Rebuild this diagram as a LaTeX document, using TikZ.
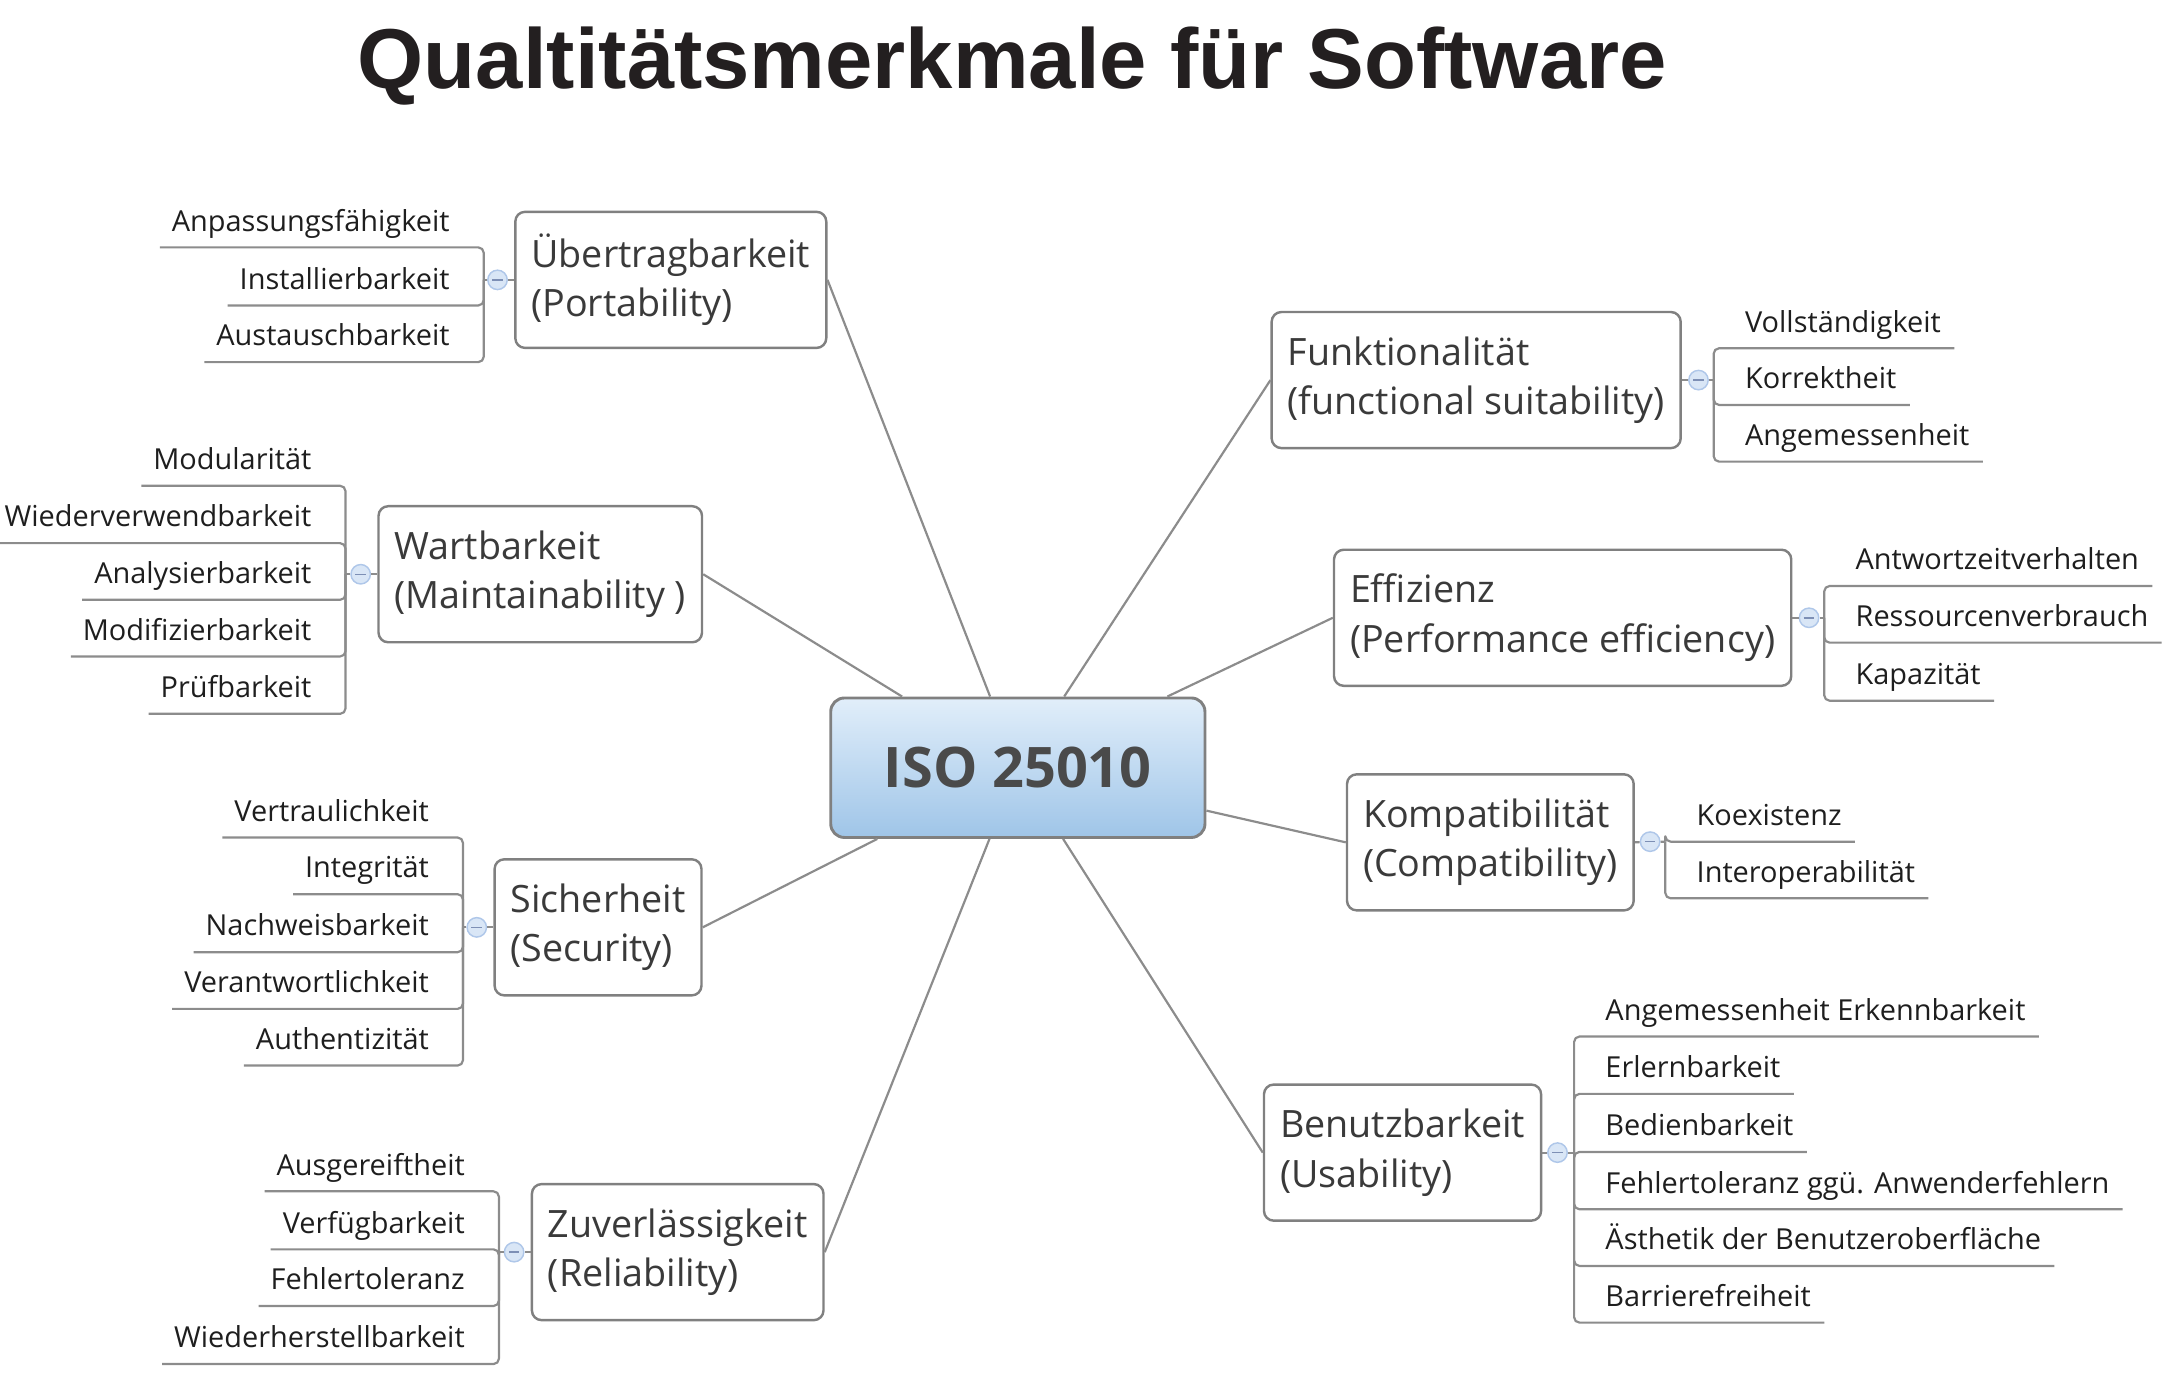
\documentclass[tikz,border=0pt]{standalone}
\usepackage{fontspec}
\setmainfont{Open Sans}
\newfontfamily\headfont{Liberation Sans}
\usetikzlibrary{calc}

\definecolor{lineGray}{HTML}{8C8C8C}
\definecolor{boxGray}{HTML}{808080}
\definecolor{knobFill}{HTML}{D9E6F6}
\definecolor{knobLine}{HTML}{AFC7E9}
\definecolor{knobDash}{HTML}{7D8FB5}
\definecolor{hubTop}{HTML}{E1EEFA}
\definecolor{hubBot}{HTML}{9FC5E8}
\definecolor{hubInk}{HTML}{4A4A4A}
\definecolor{topicInk}{HTML}{3A3A3A}
\definecolor{leafInk}{HTML}{1E1E1E}
\definecolor{titleInk}{HTML}{231F20}

\tikzset{
  twig/.style={draw=lineGray, line width=0.45pt},
  twigcorner/.style={twig, rounded corners=1.1pt},
  hub/.style={rectangle, rounded corners=2.8pt, draw=boxGray, line width=0.6pt,
    top color=hubTop, bottom color=hubBot, minimum width=77pt, minimum height=28.7pt,
    font=\bfseries\fontsize{11.5}{13}\selectfont, text=hubInk},
  topic/.style={rectangle, rounded corners=2pt, draw=boxGray, line width=0.5pt, fill=white,
    align=left, inner xsep=3.3pt, minimum height=28pt,
    font=\fontsize{7.75}{10.2}\selectfont, text=topicInk},
  knob/.style={circle, minimum size=4pt, inner sep=0pt, fill=knobFill, draw=knobLine, line width=0.3pt,
    path picture={\draw[knobDash, line width=0.3pt]
      ([xshift=-1.1pt]path picture bounding box.center) -- ([xshift=1.1pt]path picture bounding box.center);}},
  leaf/.style={inner sep=0pt, text depth=3.15pt, font=\fontsize{5.95}{7}\selectfont, text=leafInk},
  leafL/.style={leaf, anchor=south east},
  leafR/.style={leaf, anchor=south west}
}

\begin{document}
\begin{tikzpicture}[x=0.01cm, y=-0.01cm, line join=round]
  \useasboundingbox (0,0) rectangle (1568,1002);
  % title
  \node[font=\headfont\bfseries\fontsize{17.5}{20}\selectfont, text=titleInk, anchor=base]
    (title) at (732.5,63.7) {Qualtitätsmerkmale für Software};
  % centre
  \node[hub] (iso) at (736.5,555.5) {ISO 25010};
  % main characteristics
  \node[topic, anchor=west] (port) at (372,202.5) {Übertragbarkeit\\(Portability)};
  \node[topic, anchor=west] (wart) at (273,415.5) {Wartbarkeit\\(Maintainability )};
  \node[topic, anchor=west] (sich) at (357,671) {Sicherheit\\(Security)};
  \node[topic, anchor=west] (zuv) at (384,906) {Zuverlässigkeit\\(Reliability)};
  \node[topic, anchor=east] (funk) at (1217,275) {Funktionalität\\(functional suitability)};
  \node[topic, anchor=east] (eff) at (1297,447) {Effizienz\\(Performance efficiency)};
  \node[topic, anchor=east] (komp) at (1183,609.5) {Kompatibilität\\(Compatibility)};
  \node[topic, anchor=east] (benu) at (1116,834) {Benutzbarkeit\\(Usability)};
  \foreach \b/\s in {port/east, wart/east, sich/east, zuv/east, funk/west, eff/west, komp/west, benu/west}
    \draw[twig] (iso) -- (\b.\s);

  % Übertragbarkeit
  \node[knob] (kPort) at (360,202.5) {};
  \coordinate (jPort) at (350,202.5);
  \draw[twig] (port.west) -- (kPort) -- (jPort);
  \foreach \n/\t/\y in {p1/Anpassungsfähigkeit/179, p2/Installierbarkeit/221, p3/Austauschbarkeit/262}{
    \node[leafL] (\n) at (326,\y) {\t};
    \draw[twigcorner] (jPort) |- ($(\n.south west)+(-8,0)$);
  }
  % Wartbarkeit
  \node[knob] (kWart) at (261,415.5) {};
  \coordinate (jWart) at (250,415.5);
  \draw[twig] (wart.west) -- (kWart) -- (jWart);
  \foreach \n/\t/\y in {w1/Modularität/351.5, w2/Wiederverwendbarkeit/393, w3/Analysierbarkeit/434,
      w4/Modifizierbarkeit/475, w5/Prüfbarkeit/516.5}{
    \node[leafL] (\n) at (226,\y) {\t};
    \draw[twigcorner] (jWart) |- ($(\n.south west)+(-8,0)$);
  }
  % Sicherheit
  \node[knob] (kSich) at (345,671) {};
  \coordinate (jSich) at (335,671);
  \draw[twig] (sich.west) -- (kSich) -- (jSich);
  \foreach \n/\t/\y in {s1/Vertraulichkeit/606, s2/Integrität/647, s3/Nachweisbarkeit/689,
      s4/Verantwortlichkeit/730, s5/Authentizität/771}{
    \node[leafL] (\n) at (311,\y) {\t};
    \draw[twigcorner] (jSich) |- ($(\n.south west)+(-8,0)$);
  }
  % Zuverlässigkeit
  \node[knob] (kZuv) at (372,906) {};
  \coordinate (jZuv) at (361,906);
  \draw[twig] (zuv.west) -- (kZuv) -- (jZuv);
  \foreach \n/\t/\y in {z1/Ausgereiftheit/862, z2/Verfügbarkeit/904, z3/Fehlertoleranz/945,
      z4/Wiederherstellbarkeit/987}{
    \node[leafL] (\n) at (337,\y) {\t};
    \draw[twigcorner] (jZuv) |- ($(\n.south west)+(-8,0)$);
  }

  % Funktionalität
  \node[knob] (kFunk) at (1229,275) {};
  \coordinate (jFunk) at (1240,275);
  \draw[twig] (funk.east) -- (kFunk) -- (jFunk);
  \foreach \n/\t/\y in {f1/Vollständigkeit/252, f2/Korrektheit/293, f3/Angemessenheit/334}{
    \node[leafR] (\n) at (1262,\y) {\t};
    \draw[twigcorner] (jFunk) |- ($(\n.south east)+(9,0)$);
  }
  % Effizienz
  \node[knob] (kEff) at (1309,447) {};
  \coordinate (jEff) at (1320,447);
  \draw[twig] (eff.east) -- (kEff) -- (jEff);
  \foreach \n/\t/\y in {e1/Antwortzeitverhalten/424, e2/Ressourcenverbrauch/465, e3/Kapazität/507}{
    \node[leafR] (\n) at (1342,\y) {\t};
    \draw[twigcorner] (jEff) |- ($(\n.south east)+(9,0)$);
  }
  % Kompatibilität
  \node[knob] (kKomp) at (1194,609) {};
  \coordinate (jKomp) at (1205,609);
  \draw[twig] (komp.east) -- (kKomp) -- (jKomp);
  \foreach \n/\t/\y in {c1/Koexistenz/609, c2/Interoperabilität/650}{
    \node[leafR] (\n) at (1227,\y) {\t};
    \draw[twigcorner] (jKomp) |- ($(\n.south east)+(9,0)$);
  }
  % Benutzbarkeit
  \node[knob] (kBenu) at (1127,834) {};
  \coordinate (jBenu) at (1139,834);
  \draw[twig] (benu.east) -- (kBenu) -- (jBenu);
  \foreach \n/\t/\y in {u1/Angemessenheit Erkennbarkeit/750, u2/Erlernbarkeit/791.5, u3/Bedienbarkeit/833.5,
      u4/Fehlertoleranz ggü. Anwenderfehlern/875, u5/Ästhetik der Benutzeroberfläche/916, u6/Barrierefreiheit/957}{
    \node[leafR] (\n) at (1161,\y) {\t};
    \draw[twigcorner] (jBenu) |- ($(\n.south east)+(9,0)$);
  }
\end{tikzpicture}
\end{document}
